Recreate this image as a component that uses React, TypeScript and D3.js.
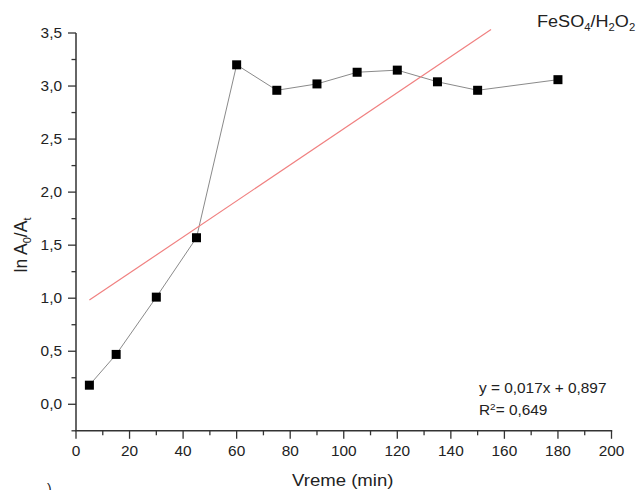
import React from "react";
import * as d3 from "d3";

const timeMin = [5, 15, 30, 45, 60, 75, 90, 105, 120, 135, 150, 180];
const lnRatio = [0.18, 0.47, 1.01, 1.57, 3.2, 2.96, 3.02, 3.13, 3.15, 3.04, 2.96, 3.06];
const fitSlope = 0.017;
const fitIntercept = 0.897;
const fitRange = [5, 155];
const xTicks = [0, 20, 40, 60, 80, 100, 120, 140, 160, 180, 200];
const yTicks = [0, 0.5, 1, 1.5, 2, 2.5, 3, 3.5];

const W = 639;
const H = 490;
const FONT = "'Liberation Sans', Arial, sans-serif";
const TEXT = "#222";

function T({
  x,
  y,
  size,
  sx = 1.1,
  sy = 1,
  anchor = "start",
  rotate = 0,
  children,
}: {
  x: number;
  y: number;
  size: number;
  sx?: number;
  sy?: number;
  anchor?: string;
  rotate?: number;
  children: React.ReactNode;
}) {
  return (
    <g transform={`translate(${x},${y}) rotate(${rotate}) scale(${sx},${sy})`}>
      <text x={0} y={0} fontSize={size} textAnchor={anchor} fill={TEXT}>
        {children}
      </text>
    </g>
  );
}

export default function App() {
  const x = d3.scaleLinear().domain([0, 200]).range([76, 611.5]);
  const y = d3.scaleLinear().domain([-0.25, 3.5]).range([430.8, 33]);
  const fmt = (v: number) => v.toFixed(1).replace(".", ",");
  const xMinor = d3.range(10, 200, 20);
  const yMinor = d3.range(-0.25, 3.5, 0.5);
  const line = d3
    .line<number>()
    .x((_, i) => x(timeMin[i]))
    .y((d) => y(d));
  const axisColor = "#333";
  return (
    <svg
      width={W}
      height={H}
      style={{ position: "absolute", left: 0, top: 0, background: "#fff" }}
      fontFamily={FONT}
    >
      {/* axes */}
      <line x1={x(0)} x2={x(0)} y1={y(3.5)} y2={y(-0.25)} stroke={axisColor} strokeWidth={1.5} />
      <line x1={x(0) - 0.75} x2={x(200) + 0.75} y1={y(-0.25)} y2={y(-0.25)} stroke={axisColor} strokeWidth={1.5} />
      {yTicks.map((t) => (
        <g key={"yt" + t}>
          <line x1={x(0) - 8} x2={x(0)} y1={y(t)} y2={y(t)} stroke={axisColor} strokeWidth={1.3} />
          <T x={62} y={y(t) + 5} size={14} anchor="end">
            {fmt(t)}
          </T>
        </g>
      ))}
      {yMinor.map((t) => (
        <line key={"ym" + t} x1={x(0) - 4.5} x2={x(0)} y1={y(t)} y2={y(t)} stroke={axisColor} strokeWidth={1.3} />
      ))}
      {xTicks.map((t) => (
        <g key={"xt" + t}>
          <line x1={x(t)} x2={x(t)} y1={y(-0.25)} y2={y(-0.25) + 8} stroke={axisColor} strokeWidth={1.3} />
          <T x={x(t)} y={456} size={14} anchor="middle">
            {t}
          </T>
        </g>
      ))}
      {xMinor.map((t) => (
        <line key={"xm" + t} x1={x(t)} x2={x(t)} y1={y(-0.25)} y2={y(-0.25) + 4.5} stroke={axisColor} strokeWidth={1.3} />
      ))}

      {/* axis labels */}
      <T x={x(100) - 1} y={486} size={16} sx={1.16} anchor="middle">
        Vreme (min)
      </T>
      <T x={27} y={245} size={17.5} sx={1.0} sy={1.0} rotate={-90} anchor="middle">
        ln A<tspan dy={4} fontSize={11}>0</tspan>
        <tspan dy={-4}>/A</tspan>
        <tspan dy={4} fontSize={11}>t</tspan>
      </T>

      {/* data line */}
      <path d={line(lnRatio) || ""} fill="none" stroke="#8a8a8a" strokeWidth={1} />
      {/* fit line */}
      <line
        x1={x(fitRange[0])}
        y1={y(fitSlope * fitRange[0] + fitIntercept)}
        x2={x(fitRange[1])}
        y2={y(fitSlope * fitRange[1] + fitIntercept)}
        stroke="#f08080"
        strokeWidth={1.2}
      />
      {/* markers */}
      {lnRatio.map((v, i) => (
        <rect key={"m" + i} x={x(timeMin[i]) - 4.5} y={y(v) - 4.5} width={9} height={9} fill="#000" />
      ))}

      {/* annotations */}
      <T x={537} y={27} size={16} sx={1.13}>
        FeSO<tspan dy={4} fontSize={10}>4</tspan>
        <tspan dy={-4}>/H</tspan>
        <tspan dy={4} fontSize={10}>2</tspan>
        <tspan dy={-4}>O</tspan>
        <tspan dy={4} fontSize={10}>2</tspan>
      </T>
      <T x={479} y={393} size={14} sx={1.1}>
        y = 0,017x + 0,897
      </T>
      <T x={479} y={415} size={14} sx={1.1}>
        R<tspan dy={-5} fontSize={9}>2</tspan>
        <tspan dy={5}>= 0,649</tspan>
      </T>
      <T x={47} y={494} size={14} sx={1}>
        )
      </T>
    </svg>
  );
}
